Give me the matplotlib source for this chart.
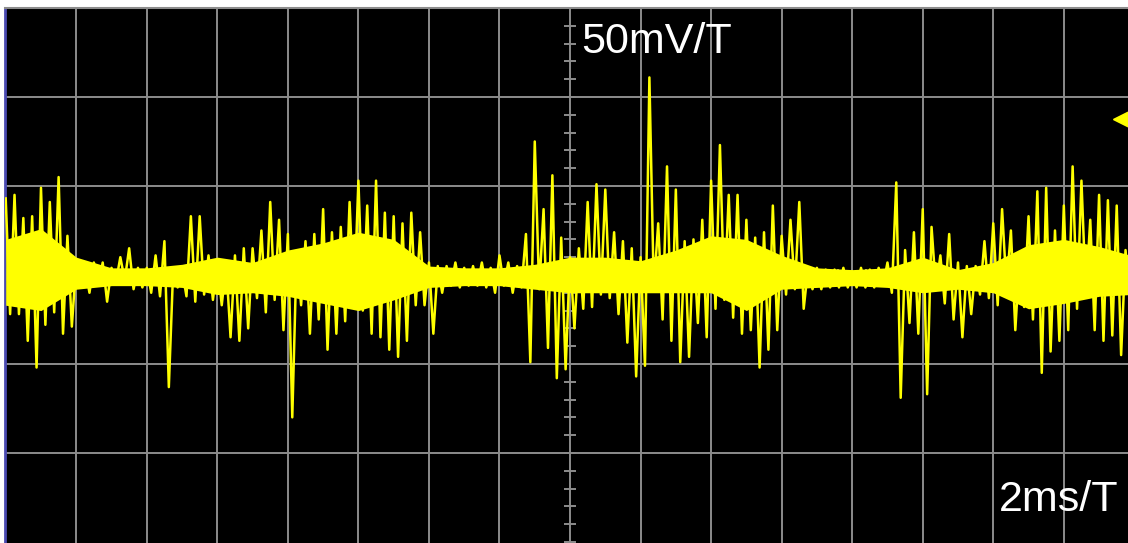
import matplotlib
matplotlib.use("Agg")
import matplotlib.pyplot as plt
import numpy as np

# scope screen: 2 ms per division, 50 mV per division
# one display column every 0.25 ms
t = np.arange(-16, 16, 0.25)

# top and bottom of each column, mV
hi = [43, 45, 32, 33, 49, 41, 55, 22, 7, 4,
      7, 7, 4, 10, 15, 4, 4, 11, 19, 4,
      3, 33, 33, 11, 7, 6, 11, 15, 15, 25,
      41, 31, 23, 13, 19, 23, 37, 24, 27, 41,
      53, 39, 53, 35, 33, 29, 35, 24, 7, 5,
      5, 7, 4, 5, 7, 4, 11, 7, 5, 23,
      75, 37, 56, 21, 10, 15, 41, 51, 48, 24,
      19, 15, 10, 111, 29, 61, 48, 19, 20, 31,
      53, 73, 45, 45, 31, 21, 24, 39, 22, 31,
      41, 4, 4, 3, 3, 4, 2, 4, 3, 4,
      7, 52, 14, 24, 37, 27, 11, 23, 7, 5,
      5, 19, 29, 37, 25, 11, 33, 47, 49, 25,
      39, 61, 53, 31, 45, 42, 39, 14]
lo = [-22, -22, -37, -52, -28, -21, -33, -29, -7, -10,
      -6, -15, -4, -3, -8, -7, -10, -12, -63, -7,
      -12, -15, -11, -14, -17, -35, -37, -30, -13, -21,
      -14, -31, -80, -17, -33, -25, -42, -33, -26, -17,
      -20, -33, -35, -42, -46, -37, -17, -17, -33, -10,
      -6, -7, -6, -6, -7, -10, -6, -10, -7, -49,
      -8, -41, -58, -53, -30, -19, -18, -11, -13, -22,
      -38, -57, -51, -8, -25, -37, -49, -46, -27, -35,
      -19, -14, -24, -33, -31, -52, -42, -31, -11, -8,
      -19, -8, -8, -7, -7, -7, -7, -7, -7, -6,
      -10, -69, -27, -33, -67, -8, -16, -25, -35, -22,
      -11, -13, -17, -7, -31, -18, -25, -55, -43, -37,
      -31, -19, -11, -31, -37, -34, -45, -16]

# solid core of the trace, mV
t_core = [-16, -15, -14, -13, -12, -11, -10, -9, -8, -7, -6, -5, -4, -3, -2, -1,
          0, 1, 2, 3, 4, 5, 6, 7, 8, 9, 10, 11, 12, 13, 14, 15, 15.9]
core_hi = [20, 26, 10, 4, 4, 6, 10, 7, 14, 18, 24, 20, 5, 4, 4, 6,
           10, 10, 8, 14, 22, 20, 11, 4, 3, 4, 10, 3, 7, 17, 20, 16, 11]
core_lo = [-17, -20, -8, -6, -6, -7, -11, -10, -12, -16, -20, -14, -7, -6, -6, -8,
           -10, -10, -10, -10, -10, -20, -8, -7, -6, -7, -10, -8, -10, -19, -16, -12, -11]

W, H = 1128, 543
fig = plt.figure(figsize=(W / 100, H / 100), dpi=100, facecolor='white')
ax = fig.add_axes([5 / W, 0, 1 - 5 / W, 1 - 8 / H])
ax.set_facecolor('black')
ax.set_xlim(-16.02, 15.82)
ax.set_ylim(-150.6, 150)
ax.set_xticks([])
ax.set_yticks([])
for s in ('bottom', 'right'):
    ax.spines[s].set_visible(False)
ax.spines['top'].set_color('#8c8c8c')
ax.spines['top'].set_linewidth(1.5)
ax.spines['left'].set_color('#4a4ab0')
ax.spines['left'].set_linewidth(2)

grid_col = '#8c8c8c'
for x in range(-14, 16, 2):
    ax.axvline(x, color=grid_col, lw=1.4, zorder=1)
for y in (-100, -50, 0, 50, 100):
    ax.axhline(y, color=grid_col, lw=1.4, zorder=1)

# minor ticks on the centre lines
yt = np.arange(-150, 151, 10)
ax.plot(np.zeros(len(yt)), yt, ls='none', marker='_', ms=8, mew=1.4, color=grid_col, zorder=1)
xt = np.arange(-16, 16.1, 0.4)
ax.plot(xt, np.zeros(len(xt)), ls='none', marker='|', ms=8, mew=1.4, color=grid_col, zorder=1)

# trace: each column swings from its top to its bottom
tz = np.empty(2 * len(t))
yz = np.empty(2 * len(t))
tz[0::2] = t
tz[1::2] = t + 0.125
yz[0::2] = hi
yz[1::2] = lo
ax.fill_between(t_core, core_lo, core_hi, color='#ffff00', lw=0, zorder=3)
ax.plot(tz, yz, color='#ffff00', lw=1.8, zorder=3)

# trigger level marker
ax.plot([15.67], [87.6], marker='<', ms=15, color='#ffff00', clip_on=False, zorder=4)

fig.text(581 / W, 1 - 53 / H, '50mV/T', color='white', fontsize=31,
         family='Liberation Sans', va='baseline', ha='left')
fig.text(999 / W, 1 - 511 / H, '2ms/T', color='white', fontsize=31,
         family='Liberation Sans', va='baseline', ha='left')

fig.savefig('out.png', dpi=100, facecolor='white')
